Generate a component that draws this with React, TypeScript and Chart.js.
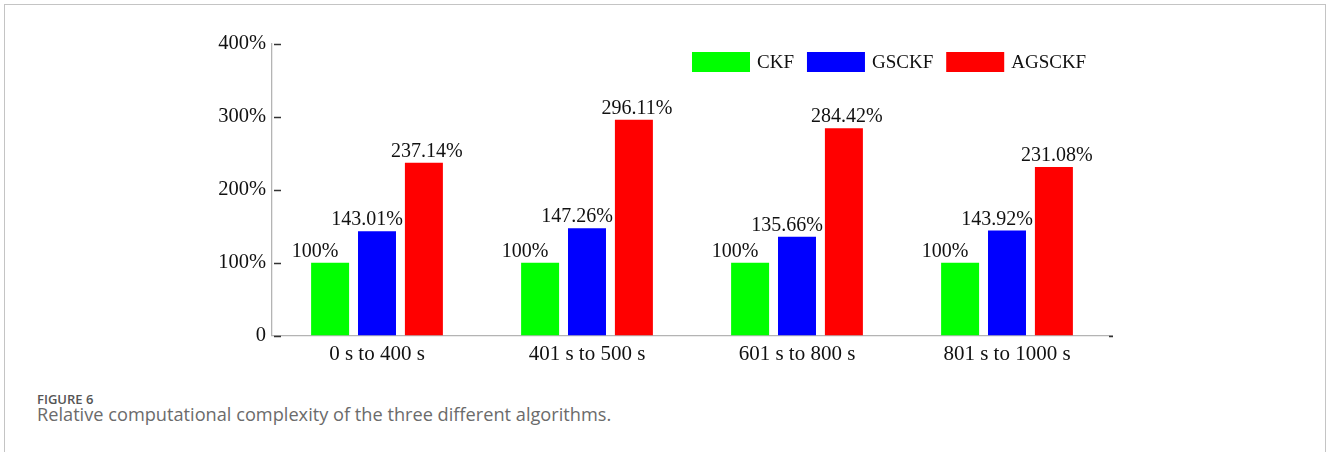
import React, { useEffect, useRef } from "react";
import { Chart, registerables } from "chart.js";

Chart.register(...registerables);

// Time windows compared
const categories = ["0 s to 400 s", "401 s to 500 s", "601 s to 800 s", "801 s to 1000 s"];

// Relative computational cost (%), CKF is the 100% baseline
const ckfValues = [100, 100, 100, 100];
const gsckfValues = [143.01, 147.26, 135.66, 143.92];
const agsckfValues = [237.14, 296.11, 284.42, 231.08];

const seriesNames = ["CKF", "GSCKF", "AGSCKF"];
const seriesColors = ["#00ff00", "#0000ff", "#ff0000"];

const yTicks = [0, 100, 200, 300, 400];

const SERIF = "'Times New Roman', 'Liberation Serif', serif";

const fmtPct = (v: number) => (Number.isInteger(v) ? `${v}%` : `${v.toFixed(2)}%`);

// Value labels printed above every bar
const valueLabels = {
  id: "valueLabels",
  afterDatasetsDraw(chart: any, _args: any, opts: any) {
    const ctx = chart.ctx;
    ctx.save();
    ctx.font = `20px ${SERIF}`;
    ctx.fillStyle = "#111";
    ctx.textAlign = "center";
    ctx.textBaseline = "alphabetic";
    chart.data.datasets.forEach((ds: any, i: number) => {
      const meta = chart.getDatasetMeta(i);
      const shift = (opts.shift && opts.shift[i]) || 0;
      meta.data.forEach((bar: any, j: number) => {
        ctx.fillText(fmtPct(ds.data[j]), bar.x + shift, bar.y - 6);
      });
    });
    ctx.restore();
  },
};

// Inward tick marks on the value axis and the end mark of the category axis
const axisMarks = {
  id: "axisMarks",
  afterDraw(chart: any) {
    const ctx = chart.ctx;
    const area = chart.chartArea;
    const y = chart.scales.y;
    ctx.save();
    ctx.strokeStyle = "#333";
    ctx.lineWidth = 1.5;
    y.ticks.forEach((t: any) => {
      const py = Math.round(y.getPixelForValue(t.value)) + 0.5;
      ctx.beginPath();
      ctx.moveTo(area.left + 2, py);
      ctx.lineTo(area.left + 9, py);
      ctx.stroke();
    });
    ctx.beginPath();
    ctx.moveTo(area.right - 3, area.bottom + 1);
    ctx.lineTo(area.right + 1, area.bottom + 1);
    ctx.stroke();
    ctx.restore();
  },
};

// Legend drawn inside the plot, top right
const innerLegend = {
  id: "innerLegend",
  afterDraw(chart: any) {
    const ctx = chart.ctx;
    const area = chart.chartArea;
    ctx.save();
    ctx.font = `19px ${SERIF}`;
    ctx.textBaseline = "middle";
    ctx.textAlign = "left";
    let x = area.right - 420;
    const top = 52;
    const boxW = 58;
    const boxH = 20;
    chart.data.datasets.forEach((ds: any) => {
      ctx.fillStyle = ds.backgroundColor;
      ctx.fillRect(x, top, boxW, boxH);
      x += boxW + 7;
      ctx.fillStyle = "#111";
      ctx.fillText(ds.label, x, top + boxH / 2 + 1);
      x += ctx.measureText(ds.label).width + 13;
    });
    ctx.restore();
  },
};

export default function App() {
  const canvasRef = useRef<HTMLCanvasElement | null>(null);

  useEffect(() => {
    if (!canvasRef.current) return;
    const seriesValues = [ckfValues, gsckfValues, agsckfValues];
    const chart = new Chart(canvasRef.current, {
      type: "bar",
      data: {
        labels: categories,
        datasets: seriesValues.map((vals, i) => ({
          label: seriesNames[i],
          data: vals,
          backgroundColor: seriesColors[i],
          borderWidth: 0,
          categoryPercentage: 0.67,
          barPercentage: 0.81,
        })),
      },
      options: {
        responsive: false,
        animation: false,
        devicePixelRatio: 1,
        layout: { padding: { top: 44, right: 216, left: 0, bottom: 0 } },
        plugins: {
          legend: { display: false },
          tooltip: { enabled: false },
          valueLabels: { shift: [-15, -10, 3] },
        } as any,
        scales: {
          x: {
            grid: { display: false, drawTicks: false },
            border: { display: true, color: "#b4b4b4", width: 1.3 },
            ticks: {
              color: "#111",
              font: { family: SERIF, size: 21 },
              padding: 6,
              maxRotation: 0,
            },
            afterFit(scale: any) {
              scale.height = 44.5;
            },
          },
          y: {
            min: 0,
            max: 400,
            afterBuildTicks(scale: any) {
              scale.ticks = yTicks.map((v) => ({ value: v }));
            },
            grid: { display: false, drawTicks: false },
            border: { display: true, color: "#b4b4b4", width: 1.3 },
            ticks: {
              color: "#111",
              font: { family: SERIF, size: 20.5 },
              padding: 6,
              callback: (v: any) => (Number(v) === 0 ? "0" : `${v}%`),
            },
            afterFit(scale: any) {
              scale.width = 272;
            },
          },
        },
      },
      plugins: [valueLabels, axisMarks, innerLegend],
    });
    return () => chart.destroy();
  }, []);

  return (
    <div style={{ position: "absolute", left: 0, top: 0, width: 1328, height: 452, background: "#fff", overflow: "hidden" }}>
      <div
        style={{
          position: "absolute",
          left: 4,
          top: 4,
          width: 1320,
          height: 460,
          borderTop: "1px solid #c4c4c4",
          borderLeft: "1.5px solid #c4c4c4",
          borderRight: "1.5px solid #c4c4c4",
        }}
      />
      <canvas ref={canvasRef} width={1328} height={380} style={{ position: "absolute", left: 0, top: 0 }} />
      <div
        style={{
          position: "absolute",
          left: 37,
          top: 392,
          fontFamily: "'Open Sans', sans-serif",
          fontSize: 13,
          fontWeight: 600,
          color: "#555",
          lineHeight: "15px",
        }}
      >
        FIGURE 6
      </div>
      <div
        style={{
          position: "absolute",
          left: 37,
          top: 403,
          fontFamily: "'Open Sans', sans-serif",
          fontSize: 18.2,
          color: "#6b6b6b",
          lineHeight: "22px",
          whiteSpace: "nowrap",
        }}
      >
        Relative computational complexity of the three different algorithms.
      </div>
    </div>
  );
}
